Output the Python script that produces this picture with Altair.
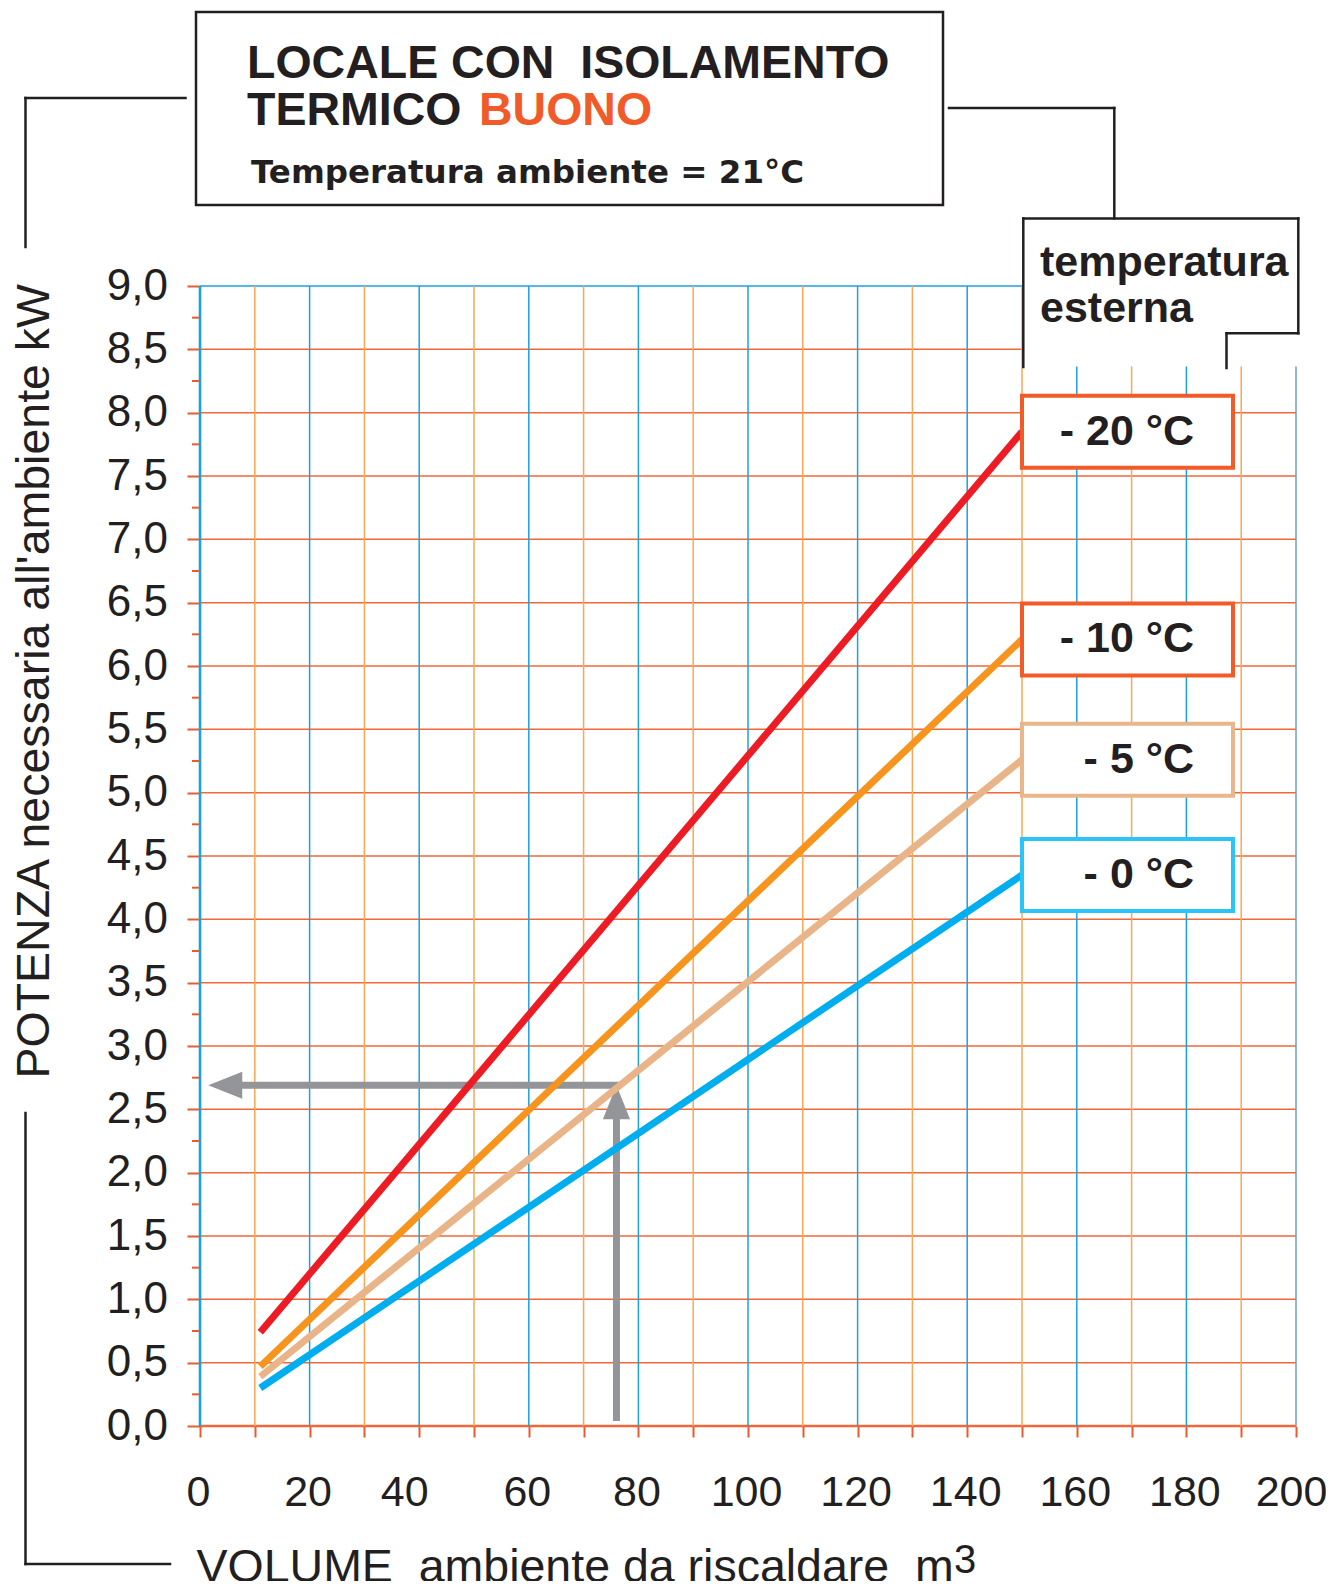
import altair as alt
import pandas as pd

# ---------------- data ----------------
series_labels = ["- 20 °C", "- 10 °C", "- 5 °C", "- 0 °C"]
volume_points = [11, 150]            # m3: start and end of every line
power_minus20 = [0.74, 7.85]         # kW
power_minus10 = [0.47, 6.21]
power_minus5 = [0.39, 5.26]
power_zero = [0.30, 4.35]

x_tick_values = [0, 10, 20, 30, 40, 50, 60, 70, 80, 90, 100,
                 110, 120, 130, 140, 150, 160, 170, 180, 190, 200]
x_blue_grid = [0, 20, 40, 60, 80, 100, 120, 140, 160, 180, 200]
x_orange_grid = [10, 30, 50, 70, 90, 110, 130, 150, 170, 190]
y_tick_values = [0.0, 0.5, 1.0, 1.5, 2.0, 2.5, 3.0, 3.5, 4.0, 4.5,
                 5.0, 5.5, 6.0, 6.5, 7.0, 7.5, 8.0, 8.5, 9.0]
y_minor_ticks = [0.25, 0.75, 1.25, 1.75, 2.25, 2.75, 3.25, 3.75, 4.25,
                 4.75, 5.25, 5.75, 6.25, 6.75, 7.25, 7.75, 8.25, 8.75]

example_volume = 76        # reading example (arrows)
example_power = 2.69
arrow_start_power = 0.04
arrow_tip_volume = 1.5

# ---------------- styles ----------------
W, H = 1096, 1140
INK = "#231f20"
GRID_RED = "#f16838"
TICK_RED = "#ea5a30"
GRID_BLUE = "#1da1dc"
GRID_ORANGE = "#f9a655"
EDGE_BLUE = "#6f9fc2"
ARROW_GRAY = "#939598"
LINE_COLORS = ["#ed1c24", "#f7941d", "#e9b487", "#00aeef"]
BOX_COLORS = ["#f15a29", "#f15a29", "#e9b68b", "#29c5f6"]
FONT = "Liberation Sans"

xs = alt.Scale(domain=[0, 200], nice=False, zero=False)
ys = alt.Scale(domain=[0, 9], nice=False, zero=False)

one = pd.DataFrame({"k": [0]})

series = [power_minus20, power_minus10, power_minus5, power_zero]
rows = []
for lab, vals in zip(series_labels, series):
    for v, p in zip(volume_points, vals):
        rows.append({"serie": lab, "volume": v, "power": p})
df_lines = pd.DataFrame(rows)
df_ends = pd.DataFrame({"serie": series_labels,
                        "volume": [volume_points[-1]] * len(series),
                        "power": [s[-1] for s in series]})

x_axis = alt.Axis(
    values=x_tick_values,
    labelExpr="datum.value % 20 == 0 ? datum.label : ''",
    labelOffset={"condition": [{"test": "datum.value == 40", "value": -15},
                               {"test": "datum.value == 200", "value": -5}],
                 "value": -2},
    grid=False, domain=False,
    tickSize=11, tickWidth=2, tickColor=TICK_RED,
    labelFont=FONT, labelFontSize=43, labelColor=INK,
    labelPadding=68, labelBaseline="alphabetic",
    labelFlush=False, labelOverlap=False,
    title="VOLUME\u00a0 ambiente da riscaldare\u00a0 m",
    titleFont=FONT, titleFontSize=46.5, titleFontWeight="normal", titleColor=INK,
    titleX=-4, titleY=155, titleAlign="left", titleBaseline="alphabetic",
)
y_axis = alt.Axis(
    values=y_tick_values,
    labelExpr="replace(format(datum.value, '.1f'), '.', ',')",
    grid=False, domain=False,
    tickSize=13, tickWidth=2, tickColor=TICK_RED,
    labelFont=FONT, labelFontSize=44, labelColor=INK,
    labelPadding=19.5, labelOverlap=False,
    title="POTENZA necessaria all'ambiente kW",
    titleFont=FONT, titleFontSize=46.5, titleFontWeight="normal", titleColor=INK,
    titleAngle=270, titleX=-152, titleY=792, titleAlign="left",
    titleBaseline="alphabetic",
)


def X(field):
    return alt.X(field, scale=xs, axis=x_axis)


def Y(field):
    return alt.Y(field, scale=ys, axis=y_axis)


layers = []

# horizontal grid
layers.append(
    alt.Chart(pd.DataFrame({"power": y_tick_values})).mark_rule().encode(
        y=Y("power:Q"),
        x=alt.value(0), x2=alt.value(W),
        color=alt.condition(alt.datum.power == 9, alt.value(GRID_BLUE), alt.value(GRID_RED)),
        strokeWidth=alt.condition(alt.datum.power == 0, alt.value(2.6), alt.value(1.5)),
    )
)
# vertical grid
layers.append(
    alt.Chart(pd.DataFrame({"volume": x_orange_grid})).mark_rule(
        color=GRID_ORANGE, strokeWidth=1.5).encode(
        x=X("volume:Q"),
        y=alt.value(0), y2=alt.value(H),
    )
)
layers.append(
    alt.Chart(pd.DataFrame({"volume": x_blue_grid})).mark_rule().encode(
        x=X("volume:Q"),
        y=alt.value(0), y2=alt.value(H),
        color=alt.condition(alt.datum.volume == 200, alt.value(EDGE_BLUE), alt.value(GRID_BLUE)),
        strokeWidth=alt.condition(alt.datum.volume == 0, alt.value(2.6), alt.value(1.5)),
    )
)
# blank area under the "temperatura esterna" box
layers.append(
    alt.Chart(one).mark_rect(fill="white").encode(
        x=alt.value(823), x2=alt.value(W + 12), y=alt.value(-6), y2=alt.value(80.5))
)
# minor y ticks
layers.append(
    alt.Chart(pd.DataFrame({"power": y_minor_ticks})).mark_rule(
        color=TICK_RED, strokeWidth=2).encode(
        y=Y("power:Q"),
        x=alt.value(-8), x2=alt.value(0),
    )
)

# reading example arrows
df_arrow = pd.DataFrame({"volume": [example_volume], "p0": [arrow_start_power],
                         "p1": [example_power], "tip": [arrow_tip_volume]})
layers.append(
    alt.Chart(df_arrow).mark_rule(color=ARROW_GRAY, strokeWidth=7, y2Offset=28).encode(
        x=X("volume:Q"), y=Y("p0:Q"), y2="p1:Q")
)
layers.append(
    alt.Chart(df_arrow).mark_rule(color=ARROW_GRAY, strokeWidth=7, strokeCap="square",
                                  x2Offset=28).encode(
        x=X("volume:Q"), x2="tip:Q", y=Y("p1:Q"))
)
layers.append(
    alt.Chart(df_arrow).mark_point(shape="M0,0L0.8,2L-0.8,2Z", size=1156, filled=True,
                                   color=ARROW_GRAY, opacity=1).encode(
        x=X("volume:Q"), y=Y("p1:Q"))
)
layers.append(
    alt.Chart(df_arrow).mark_point(shape="M0,0L2,-0.8L2,0.8Z", size=1156, filled=True,
                                   color=ARROW_GRAY, opacity=1).encode(
        x=X("tip:Q"), y=Y("p1:Q"))
)

# curves
layers.append(
    alt.Chart(df_lines).mark_line(strokeWidth=7, strokeCap="butt").encode(
        x=X("volume:Q"),
        y=Y("power:Q"),
        color=alt.Color("serie:N", scale=alt.Scale(domain=series_labels, range=LINE_COLORS),
                        legend=None),
    )
)

# label boxes at the line ends
layers.append(
    alt.Chart(df_ends).mark_rect(fill="white", strokeWidth=4, x2Offset=211,
                                 yOffset=-36, y2Offset=36).encode(
        x=X("volume:Q"), x2="volume:Q",
        y=Y("power:Q"), y2="power:Q",
        stroke=alt.Stroke("serie:N", scale=alt.Scale(domain=series_labels, range=BOX_COLORS),
                          legend=None),
    )
)
layers.append(
    alt.Chart(df_ends).mark_text(align="right", baseline="alphabetic", dx=172, dy=13,
                                 font=FONT, fontSize=43, fontWeight="bold", color=INK).encode(
        x=X("volume:Q"), y=Y("power:Q"), text="serie:N",
    )
)

# frames and connectors (pixel layout relative to the plot origin)
layers.append(
    alt.Chart(one).mark_rect(fill="white", stroke=INK, strokeWidth=2.5).encode(
        x=alt.value(-4), x2=alt.value(743), y=alt.value(-274), y2=alt.value(-81))
)
polylines = [
    [(-14.5, -188), (-174.5, -188), (-174.5, -39)],
    [(-174.5, 827), (-174.5, 1278), (-30, 1278)],
    [(749, -178), (914.3, -178), (914.3, -67.6)],
    [(823.3, 81), (823.3, -67.6), (1098.3, -67.6), (1098.3, 47.3), (1026.5, 47.3), (1026.5, 82)],
]
for pl in polylines:
    for (xa, ya), (xb, yb) in zip(pl[:-1], pl[1:]):
        layers.append(
            alt.Chart(one).mark_rule(color=INK, strokeWidth=2.5, strokeCap="square").encode(
                x=alt.value(xa), x2=alt.value(xb), y=alt.value(ya), y2=alt.value(yb))
        )

texts = [
    ("LOCALE CON\u00a0 ISOLAMENTO", 47, -208, 46.5, INK, FONT, "bold"),
    ("TERMICO", 47, -161, 46.5, INK, FONT, "bold"),
    ("BUONO", 279, -161, 46.5, "#f15a29", FONT, "bold"),
    ("Temperatura ambiente = 21°C", 51, -103, 32.5, INK, "DejaVu Sans", "bold"),
    ("temperatura", 840, -10, 43, INK, FONT, "bold"),
    ("esterna", 840, 35.5, 43, INK, FONT, "bold"),
    ("3", 754, 1287, 40, INK, FONT, "normal"),
]
for t, tx, ty, fs, col, fnt, fw in texts:
    layers.append(
        alt.Chart(one).mark_text(text=t, align="left", baseline="alphabetic", fontSize=fs,
                                 color=col, font=fnt, fontWeight=fw).encode(
            x=alt.value(tx), y=alt.value(ty))
    )

chart = alt.layer(*layers).properties(
    width=W, height=H,
    autosize=alt.AutoSizeParams(type="none"),
    padding={"left": 192, "top": 278, "right": 30, "bottom": 155},
).configure(font=FONT, background="white").configure_view(strokeWidth=0)

chart.save("out.html", embed_options={"renderer": "svg", "actions": False})
